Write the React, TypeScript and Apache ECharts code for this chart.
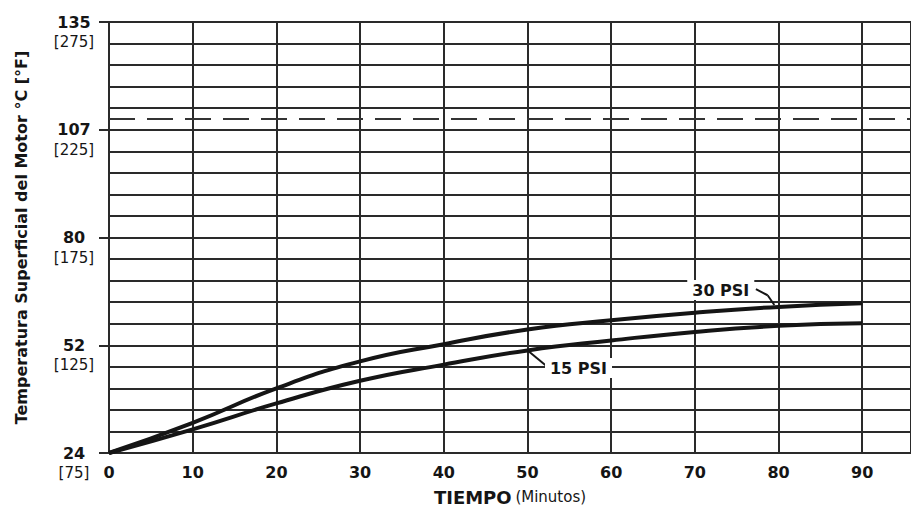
import React, { useEffect, useRef } from "react";
import * as echarts from "echarts";

// Time in minutes
const minutes = [0, 10, 20, 30, 40, 50, 60, 70, 80, 90];
// Motor surface temperature, in °F (the linear scale of the chart)
const psi30 = [75, 89, 105, 117.5, 125.5, 132.3, 136.6, 140.1, 142.8, 144.5];
const psi15 = [75, 86, 98, 108.5, 116, 122.6, 127.2, 131.2, 134, 135.2];
// Tick labels
const xTicks = [0, 10, 20, 30, 40, 50, 60, 70, 80, 90];
const yTickF = [75, 125, 175, 225, 275];
const yTickC = [24, 52, 80, 107, 135];
// Limit line (°F)
const limitF = 230;
// Curve names and annotation anchors [minutes, °F]
const seriesNames = ["30 PSI", "15 PSI"];
const label30 = [73.1, 150.6];
const leader30 = [[77.3, 151], [78.7, 148.2], [79.5, 143.7]];
const label15 = [56.1, 114.4];
const leader15 = [[50.1, 122.3], [52.2, 115.6]];

const FONT = "DejaVu Sans";
const INK = "#151515";
const GRID = "#2a2a2a";

function segs(pts: number[][]) {
  const out: any[] = [];
  for (let i = 0; i < pts.length - 1; i++) {
    out.push([{ coord: pts[i] }, { coord: pts[i + 1] }]);
  }
  return out;
}

export default function App() {
  const ref = useRef<HTMLDivElement>(null);
  useEffect(() => {
    if (!ref.current) return;
    const chart = echarts.init(ref.current, null, { renderer: "svg" });
    const mkLabel = (text: string) => ({
      show: true,
      formatter: text,
      position: "inside",
      backgroundColor: "#fff",
      padding: [2, 5],
      color: INK,
      fontWeight: "bold",
      fontSize: 16,
      fontFamily: FONT,
    });
    chart.setOption({
      animation: false,
      backgroundColor: "#fff",
      grid: { left: 109, top: 22, right: -3, bottom: 61, containLabel: false },
      xAxis: {
        type: "value",
        min: 0,
        max: 95.83,
        interval: 10,
        name: "{b|TIEMPO} {n|(Minutos)}",
        nameLocation: "middle",
        nameGap: 35,
        nameTextStyle: {
          color: INK,
          fontFamily: FONT,
          rich: {
            b: { fontWeight: "bold", fontSize: 18, fontFamily: FONT, color: INK },
            n: { fontSize: 15, fontFamily: FONT, color: INK },
          },
        },
        axisLine: { show: true, lineStyle: { color: GRID, width: 2 } },
        axisTick: { show: false },
        axisLabel: {
          customValues: xTicks,
          margin: 11,
          color: INK,
          fontWeight: "bold",
          fontSize: 16,
          fontFamily: FONT,
        },
        splitLine: { show: true, lineStyle: { color: GRID, width: 2 } },
      },
      yAxis: [
        {
          type: "value",
          min: 75,
          max: 275,
          interval: 10,
          name: "Temperatura Superficial del Motor °C [°F]",
          nameLocation: "middle",
          nameGap: 80,
          nameTextStyle: {
            color: INK,
            fontWeight: "bold",
            fontSize: 16,
            fontFamily: FONT,
          },
          axisLine: { show: true, lineStyle: { color: GRID, width: 2 } },
          axisTick: { show: false },
          axisLabel: { show: false },
          splitLine: { show: true, lineStyle: { color: GRID, width: 2 } },
        },
        {
          type: "value",
          position: "left",
          min: 75,
          max: 275,
          interval: 50,
          axisLine: { show: false },
          axisTick: {
            show: true,
            customValues: yTickF,
            length: 10,
            lineStyle: { color: GRID, width: 2 },
          },
          splitLine: { show: false },
          axisLabel: {
            customValues: yTickF,
            margin: 35,
            align: "center",
            verticalAlign: "middle",
            padding: [20, 0, 0, 0],
            formatter: (v: number) => {
              const i = yTickF.indexOf(v);
              return `{a|${yTickC[i]}}\n{b|[${v}]}`;
            },
            rich: {
              a: { fontWeight: "bold", fontSize: 16, fontFamily: FONT, color: INK, lineHeight: 20, align: "center" },
              b: { fontSize: 15, fontFamily: FONT, color: INK, lineHeight: 20, align: "center" },
            },
          },
        },
      ],
      series: [
        {
          name: seriesNames[0],
          type: "line",
          data: minutes.map((m, i) => [m, psi30[i]]),
          smooth: 0.5,
          symbol: "none",
          lineStyle: { color: INK, width: 4 },
          z: 3,
          markLine: {
            silent: true,
            symbol: ["none", "none"],
            label: { show: false },
            lineStyle: { color: INK, width: 2, type: "solid" },
            data: [
              { yAxis: limitF, lineStyle: { type: [26, 12], width: 2, color: "#333" } },
              ...segs(leader30),
            ],
          },
          markPoint: {
            symbol: "rect",
            symbolSize: 0,
            data: [{ coord: label30, label: mkLabel(seriesNames[0]) }],
          },
        },
        {
          name: seriesNames[1],
          type: "line",
          data: minutes.map((m, i) => [m, psi15[i]]),
          smooth: 0.5,
          symbol: "none",
          lineStyle: { color: INK, width: 4 },
          z: 3,
          markLine: {
            silent: true,
            symbol: ["none", "none"],
            label: { show: false },
            lineStyle: { color: INK, width: 2, type: "solid" },
            data: segs(leader15),
          },
          markPoint: {
            symbol: "rect",
            symbolSize: 0,
            data: [{ coord: label15, label: mkLabel(seriesNames[1]) }],
          },
        },
      ],
    });
    return () => chart.dispose();
  }, []);
  return (
    <div
      ref={ref}
      style={{ position: "fixed", left: 0, top: 0, width: 911, height: 514, background: "#fff" }}
    />
  );
}
